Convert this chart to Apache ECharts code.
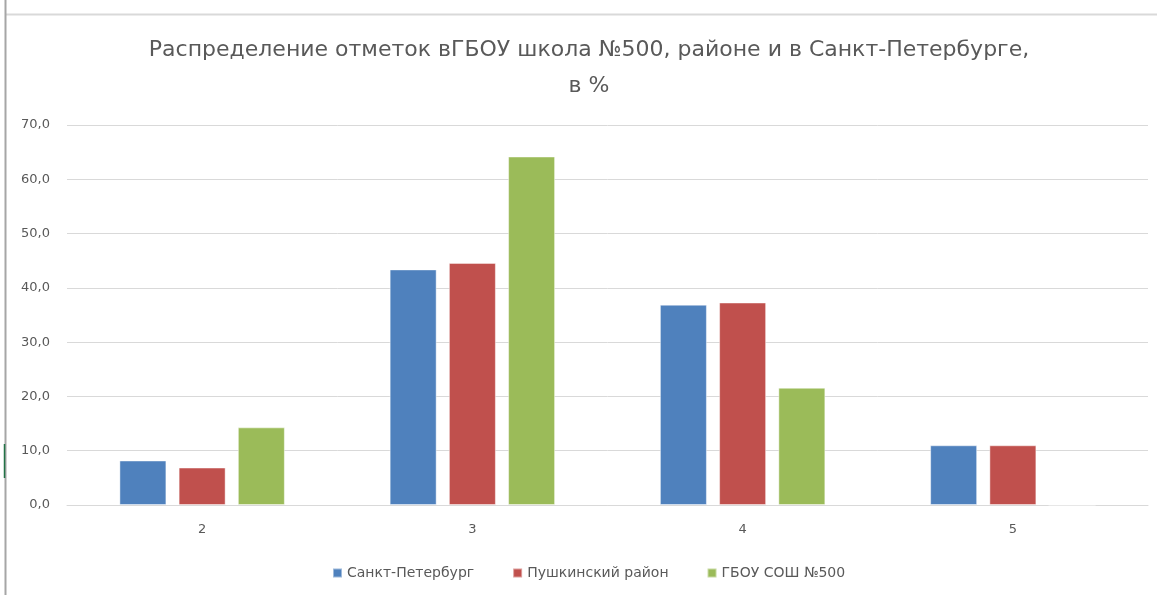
<!DOCTYPE html>
<html>
<head>
<meta charset="utf-8">
<script src="https://cdn.jsdelivr.net/npm/echarts@6/dist/echarts.min.js"></script>
<style>
  html, body { margin: 0; padding: 0; background: #ffffff; }
  #chart { width: 1157px; height: 595px; }
</style>
</head>
<body>
<div id="chart"></div>
<script>
// Grades on the exam
const categories = ['2', '3', '4', '5'];

// Share of each grade, %
const spbValues = [8.2, 43.4, 36.9, 11.0];
const pushkinValues = [6.9, 44.6, 37.3, 11.0];
const schoolValues = [14.3, 64.2, 21.6, 0];

const seriesNames = ['Санкт-Петербург', 'Пушкинский район', 'ГБОУ СОШ №500'];
const titleText = 'Распределение отметок вГБОУ школа №500, районе и в Санкт-Петербурге,\nв %';

const FONT = '"DejaVu Sans", "Noto Sans", sans-serif';
const TEXT_COLOR = '#595959';

const chart = echarts.init(document.getElementById('chart'), null, { renderer: 'canvas' });

function barSeries(name, values, color) {
  return {
    name: name,
    type: 'bar',
    data: values,
    barWidth: 47,
    barGap: '26%',
    itemStyle: { color: color, borderColor: 'rgba(255,255,255,0.45)', borderWidth: 1 }
  };
}

chart.setOption({
  animation: false,
  backgroundColor: '#ffffff',
  textStyle: { fontFamily: FONT },
  title: {
    text: titleText,
    left: 584,
    top: 27,
    textAlign: 'center',
    textStyle: {
      fontFamily: FONT,
      fontSize: 22,
      fontWeight: 'normal',
      color: TEXT_COLOR,
      lineHeight: 36
    }
  },
  legend: {
    top: 561,
    left: 327,
    icon: 'rect',
    itemWidth: 9,
    itemHeight: 9,
    itemGap: 38,
    itemTextGap: 4,
    textStyle: { fontFamily: FONT, fontSize: 14, color: TEXT_COLOR },
    data: seriesNames
  },
  grid: { left: 67, right: 9, top: 125, bottom: 90, containLabel: false },
  xAxis: {
    type: 'category',
    data: categories,
    axisLine: { show: true, lineStyle: { color: '#d9d9d9', width: 1 } },
    axisTick: { show: false },
    axisLabel: { color: TEXT_COLOR, fontSize: 13, fontFamily: FONT, margin: 18 }
  },
  yAxis: {
    type: 'value',
    min: 0,
    max: 70,
    interval: 10,
    axisLine: { show: false },
    axisTick: { show: false },
    axisLabel: {
      color: TEXT_COLOR,
      fontSize: 13,
      fontFamily: FONT,
      margin: 17,
      formatter: v => v.toFixed(1).replace('.', ',')
    },
    splitLine: { lineStyle: { color: '#d9d9d9', width: 1 } }
  },
  series: [
    barSeries(seriesNames[0], spbValues, '#4f81bd'),
    barSeries(seriesNames[1], pushkinValues, '#c0504d'),
    barSeries(seriesNames[2], schoolValues, '#9bbb59')
  ],
  graphic: [
    // frame of the chart object
    { type: 'line', shape: { x1: 6, y1: 14.5, x2: 1157, y2: 14.5 }, style: { stroke: '#d9d9d9', lineWidth: 2 }, silent: true },
    { type: 'line', shape: { x1: 5.5, y1: 0, x2: 5.5, y2: 595 }, style: { stroke: '#a6a6a6', lineWidth: 2 }, silent: true },
    { type: 'line', shape: { x1: 4.5, y1: 444, x2: 4.5, y2: 478 }, style: { stroke: '#217346', lineWidth: 1.5 }, silent: true }
  ]
});
</script>
</body>
</html>
